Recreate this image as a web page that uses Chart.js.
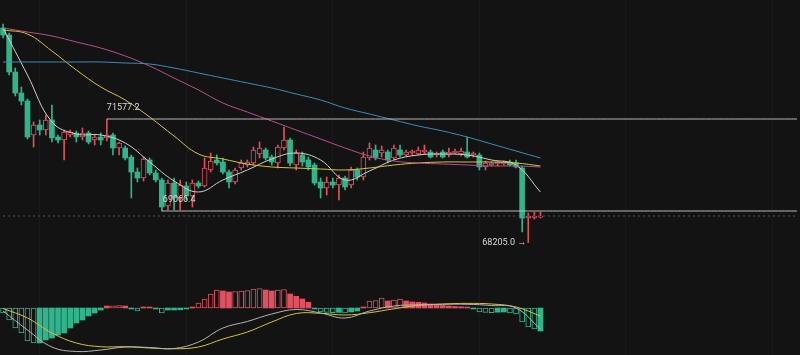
<!DOCTYPE html>
<html>
<head>
<meta charset="utf-8">
<script src="https://cdn.jsdelivr.net/npm/chart.js@4.4.1/dist/chart.umd.min.js"></script>
<style>
  html, body { margin: 0; padding: 0; background: #131313; }
  #wrap { position: relative; width: 800px; height: 355px; background: #131313; overflow: hidden; }
  canvas { position: absolute; left: 0; }
  #price { top: 0; }
  #macd { top: 268px; }
</style>
</head>
<body>
<div id="wrap">
  <canvas id="price" width="800" height="268"></canvas>
  <canvas id="macd" width="800" height="87"></canvas>
</div>
<script>
// 89 candles, the rest of the slots is the empty space on the right
const SLOTS = 131;
const MA_STEP = 4;

const opens = [74061, 73870, 72860, 72287, 72069, 71141, 71414, 71277, 71550, 71086,
  71004, 71141, 71195, 71086, 71195, 71004, 71086, 71059, 71141, 70786,
  70786, 70540, 70131, 69967, 70459, 70104, 69913, 69203, 69831, 69422,
  69749, 69476, 69831, 69749, 70186, 70459, 70404, 70131, 69858, 70240,
  70322, 70377, 70622, 70732, 70540, 70377, 70786, 71004, 70322, 70595,
  70459, 70322, 69858, 69694, 69858, 69776, 69967, 69776, 70186, 69995,
  70513, 70732, 70650, 70677, 70513, 70732, 70595, 70650, 70622, 70677,
  70677, 70595, 70677, 70595, 70650, 70622, 70677, 70595, 70595, 70268,
  70322, 70349, 70349, 70404, 70377, 70240, 68876, 68890, 68895];
const highs = [74170, 73924, 72969, 72451, 72123, 71496, 71550, 71687, 71960, 71141,
  71277, 71277, 71250, 71332, 71250, 71141, 71195, 71577.2, 71195, 70950,
  70841, 70595, 70240, 70540, 70513, 70186, 69967, 69913, 69967, 69913,
  69858, 69913, 69886, 70513, 70650, 70595, 70513, 70186, 70240, 70459,
  70459, 70813, 70950, 70786, 70595, 70868, 71359, 71059, 70732, 70677,
  70540, 70377, 69967, 69995, 69967, 70049, 70022, 70268, 70240, 70677,
  70923, 70868, 70841, 70732, 70868, 70868, 70732, 70732, 70813, 70868,
  70732, 70677, 70732, 70786, 70759, 70786, 71086, 70677, 70650, 70431,
  70404, 70431, 70431, 70459, 70459, 70295, 69012, 69040, 69040];
const lows = [73788, 72778, 72205, 71960, 71032, 70813, 71141, 71141, 70950, 70923,
  70459, 71086, 70950, 71004, 70895, 70868, 70868, 70977, 70595, 70595,
  70459, 69422, 69858, 69886, 70049, 69858, 69066.4, 69094, 69094, 69094,
  69367, 69176, 69694, 69722, 70131, 70322, 70077, 69694, 69804, 70186,
  70268, 70322, 70513, 70459, 70322, 70240, 70732, 70295, 70186, 70295,
  70186, 69776, 69422, 69503, 69694, 69367, 69640, 69694, 69913, 69913,
  70459, 70459, 70540, 70377, 70459, 70540, 70568, 70595, 70595, 70622,
  70513, 70540, 70513, 70540, 70622, 70568, 70513, 70540, 70186, 70186,
  70295, 70295, 70322, 70295, 70240, 68494, 68205.0, 68849, 68876];
const closes = [73870, 72860, 72287, 72069, 71086, 71414, 71277, 71550, 71059, 71004,
  71223, 71223, 71086, 71195, 70950, 71086, 71004, 71141, 70786, 70923,
  70513, 70131, 69967, 70486, 70104, 69913, 69176, 69831, 69422, 69776,
  69476, 69831, 69749, 70240, 70431, 70377, 70131, 69858, 70186, 70377,
  70404, 70732, 70786, 70513, 70404, 70813, 71004, 70377, 70650, 70404,
  70268, 69831, 69694, 69858, 69776, 69967, 69722, 70186, 69995, 70540,
  70786, 70513, 70732, 70459, 70786, 70595, 70677, 70704, 70732, 70732,
  70540, 70650, 70540, 70677, 70704, 70704, 70540, 70650, 70268, 70377,
  70377, 70404, 70404, 70322, 70268, 68876, 68930, 68930, 68930];

// moving averages, read every MA_STEP candles
const ma7 = [74061, 72778, 71496, 71168, 71141, 70923, 70404, 69886, 69585, 69913, 70186, 70486,
  70650, 70459, 69913, 70158, 70459, 70595, 70622, 70595, 70459, 70322, 69585];
const ma25 = [74006, 73897, 73433, 72915, 72451, 72096, 71632, 71114, 70622, 70486, 70349, 70268,
  70240, 70213, 70186, 70240, 70322, 70377, 70404, 70404, 70404, 70377, 70295];
const ma99 = [74061, 73952, 73843, 73679, 73515, 73297, 73024, 72696, 72369, 72014, 71768, 71523,
  71277, 71032, 70786, 70568, 70431, 70377, 70349, 70322, 70295, 70295, 70268];
const ma200 = [73133, 73133, 73133, 73133, 73133, 73106, 73078, 72969, 72833, 72696, 72560, 72424,
  72260, 72096, 71878, 71714, 71550, 71387, 71250, 71086, 70895, 70704, 70513];

// MACD panel
const macdHist = [-50, -120, -200, -250, -330, -350, -350, -320, -300, -270, -250, -200, -150, -120, -80, -50, -20,
  20, 22, 24, 20, -10, -30, 10, 10, -10, -50, -20, -20, -18, -10,
  10, 50, 90, 140, 180, 170, 160, 165, 170, 175, 190, 195, 180, 170, 180, 185, 140, 117, 90, 57,
  -10, -40, -43, -46, -44, -50, -40, -30,
  10, 70, 73, 100, 70, 80, 90, 70, 60, 57, 50, 40, 30, 25, 20, 15, 12, 10,
  -10, -40, -43, -46, -42, -40, -50, -60, -140, -190, -210, -230];
const macdDif = [-30, -220, -390, -435, -420, -390, -395, -405, -340, -200, -135, -60,
  -15, -50, -100, -30, 20, 32, 37, 37, 25, 0, -210];
const macdDea = [-5, -100, -250, -350, -387, -387, -400, -408, -390, -310, -240, -140,
  -55, -53, -70, -47, -8, 25, 40, 46, 40, 10, -80];

const highMark = { at: 17, value: 71577.2 };
const lowMark = { at: 26, value: 69066.4 };
const bottomMark = { at: 86, value: 68205.0 };

const BG = '#131313';
const TEAL = '#30b48c';
const RED = '#e0505e';

const labels = Array.from({ length: SLOTS }, (_, i) => i);

function pad(arr) {
  const out = new Array(SLOTS).fill(null);
  arr.forEach((v, i) => { out[i] = v; });
  return out;
}
function spread(samples) {
  const out = new Array(SLOTS).fill(null);
  samples.forEach((v, k) => { out[k * MA_STEP] = v; });
  return out;
}
function levelFrom(start, value) {
  return labels.map(i => (i >= start ? value : null));
}

const isDown = closes.map((c, i) => c < opens[i]);
const candleColor = isDown.map(d => (d ? TEAL : RED));

function maLine(data, color) {
  return {
    type: 'line', data: spread(data), borderColor: color, borderWidth: 1,
    pointRadius: 0, spanGaps: true, tension: 0.4, order: 1
  };
}

const xAxis = {
  display: true,
  grid: {
    offset: false, drawTicks: false,
    color: ctx => (ctx.index % 24 === 6 ? '#191919' : 'rgba(0,0,0,0)')
  },
  border: { display: false },
  ticks: { display: false, autoSkip: false }
};

const markLabels = {
  id: 'markLabels',
  afterDatasetsDraw(chart) {
    const { ctx, scales: { x, y } } = chart;
    ctx.save();
    ctx.font = '9px Roboto';
    ctx.fillStyle = '#dadada';
    ctx.textBaseline = 'middle';
    ctx.textAlign = 'left';
    ctx.fillText(highMark.value.toFixed(1), x.getPixelForValue(highMark.at), y.getPixelForValue(highMark.value) - 11);
    ctx.fillText(lowMark.value.toFixed(1), x.getPixelForValue(lowMark.at) + 1, y.getPixelForValue(lowMark.value) - 11);
    ctx.textAlign = 'right';
    ctx.fillText(bottomMark.value.toFixed(1) + ' \u2192', x.getPixelForValue(bottomMark.at) - 2, y.getPixelForValue(bottomMark.value));
    ctx.restore();
  }
};

new Chart(document.getElementById('price'), {
  type: 'bar',
  data: {
    labels: labels,
    datasets: [
      {
        data: pad(lows.map((l, i) => [l, highs[i]])),
        backgroundColor: candleColor, barThickness: 1, grouped: false, order: 3
      },
      {
        data: pad(opens.map((o, i) => [o, closes[i]])),
        backgroundColor: isDown.map(d => (d ? TEAL : BG)),
        borderColor: candleColor,
        borderWidth: isDown.map(d => (d ? 0 : 1)),
        borderSkipped: false, barThickness: 5, grouped: false, order: 2
      },
      maLine(ma200, '#3d8db5'),
      maLine(ma99, '#b9508c'),
      maLine(ma25, '#d6c43c'),
      maLine(ma7, '#cfcfcf'),
      {
        type: 'line', data: levelFrom(highMark.at, highMark.value), borderColor: '#b8b8b8',
        borderWidth: 1, pointRadius: 0, order: 0
      },
      {
        type: 'line', data: levelFrom(lowMark.at, lowMark.value), borderColor: '#b8b8b8',
        borderWidth: 1, pointRadius: 0, order: 0
      },
      {
        type: 'line', data: levelFrom(0, closes[closes.length - 1]), borderColor: '#555555',
        borderWidth: 1, borderDash: [2, 3], pointRadius: 0, order: 0
      }
    ]
  },
  options: {
    responsive: false, animation: false, devicePixelRatio: 1,
    layout: { padding: 0, autoPadding: false },
    plugins: { legend: { display: false }, tooltip: { enabled: false } },
    scales: {
      x: xAxis,
      y: { display: false, min: 67511, max: 74825 }
    }
  },
  plugins: [markLabels]
});

const histGrowing = macdHist.map((v, i) => i === 0 || Math.abs(v) > Math.abs(macdHist[i - 1]));
const histHollow = histGrowing.map((g, i) => g && i !== macdHist.length - 1);
const histColor = macdHist.map(v => (v < 0 ? TEAL : RED));

new Chart(document.getElementById('macd'), {
  type: 'bar',
  data: {
    labels: labels,
    datasets: [
      {
        data: pad(macdHist),
        backgroundColor: histHollow.map((h, i) => (h ? BG : histColor[i])),
        borderColor: histColor,
        borderWidth: histHollow.map(h => (h ? 1 : 0)),
        borderSkipped: false, barThickness: 5, order: 2
      },
      {
        type: 'line', data: spread(macdDif), borderColor: '#b4b4b4', borderWidth: 1,
        pointRadius: 0, spanGaps: true, tension: 0.4, order: 1
      },
      {
        type: 'line', data: spread(macdDea), borderColor: '#d2c23c', borderWidth: 1,
        pointRadius: 0, spanGaps: true, tension: 0.4, order: 1
      }
    ]
  },
  options: {
    responsive: false, animation: false, devicePixelRatio: 1,
    layout: { padding: 0, autoPadding: false },
    plugins: { legend: { display: false }, tooltip: { enabled: false } },
    scales: {
      x: xAxis,
      y: { display: false, min: -470, max: 400 }
    }
  }
});
</script>
</body>
</html>
